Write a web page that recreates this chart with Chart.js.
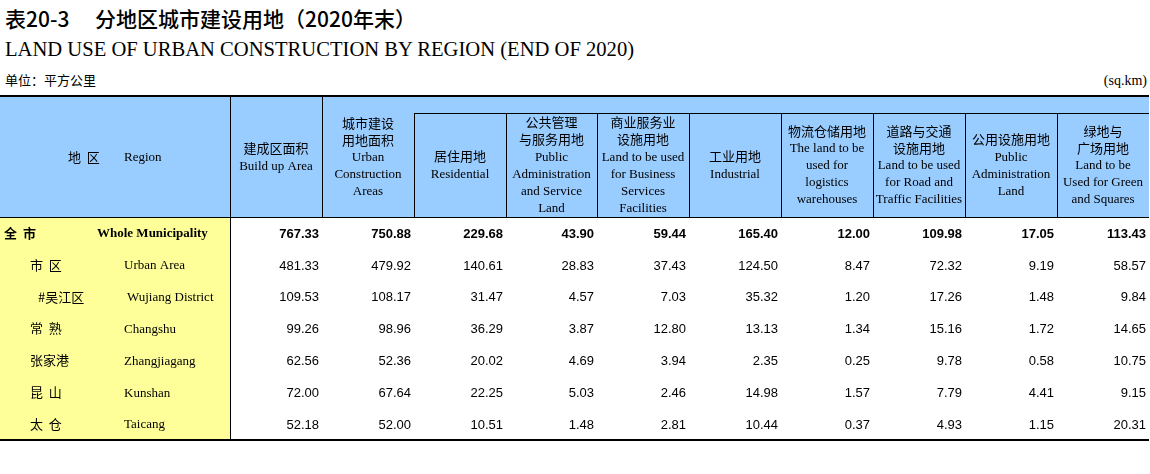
<!DOCTYPE html>
<html>
<head>
<meta charset="utf-8">
<script src="https://cdn.jsdelivr.net/npm/chart.js@4.4.1/dist/chart.umd.min.js"></script>
<style>
  html, body { margin: 0; padding: 0; background: #fff; }
  body { width: 1150px; height: 474px; position: relative; overflow: hidden; }
  .txt { position: absolute; white-space: nowrap; color: #000; }
  #title-no { left: 5px; top: 5px; font: 500 21px/26px "Noto Sans CJK SC", sans-serif; }
  #title-zh { left: 95px; top: 5px; font: 500 21px/26px "Noto Sans CJK SC", sans-serif; }
  #title-en { left: 5px; top: 37px; font: 20.6px/24px "Liberation Serif", serif; }
  #unit-zh { left: 5px; top: 72px; font: 13px/16px "Noto Sans CJK SC", sans-serif; }
  #unit-en { right: 3px; top: 73px; font: 14px/16px "Liberation Serif", serif; }
  #table-wrap { position: absolute; left: 0; top: 0; width: 1150px; height: 474px; }
</style>
</head>
<body>
<div class="txt" id="title-no">表20-3</div>
<div class="txt" id="title-zh">分地区城市建设用地（2020年末）</div>
<div class="txt" id="title-en">LAND USE OF URBAN CONSTRUCTION BY REGION (END OF 2020)</div>
<div class="txt" id="unit-zh">单位：平方公里</div>
<div class="txt" id="unit-en">(sq.km)</div>
<div id="table-wrap"><canvas id="land-table" width="1150" height="474"></canvas></div>

<script>
/* 分地区城市建设用地 (2020年末) — 表格用 Chart.js 线性坐标轴排版，插件绘制单元格 */

// 行：地区
var REGIONS_ZH = ['全  市', '市  区', '#吴江区', '常  熟', '张家港', '昆  山', '太  仓'];
var REGIONS_EN = ['Whole Municipality', 'Urban Area', 'Wujiang District', 'Changshu', 'Zhangjiagang', 'Kunshan', 'Taicang'];
var REGION_LEVEL = [0, 1, 2, 1, 1, 1, 1];

// 表头
var REGION_HEADER = ['地  区', 'Region'];
var COLUMN_HEADERS = [
  ['建成区面积', 'Build up Area'],
  ['城市建设', '用地面积', 'Urban', 'Construction', 'Areas'],
  ['居住用地', 'Residential'],
  ['公共管理', '与服务用地', 'Public', 'Administration', 'and Service', 'Land'],
  ['商业服务业', '设施用地', 'Land to be used', 'for Business', 'Services', 'Facilities'],
  ['工业用地', 'Industrial'],
  ['物流仓储用地', 'The land to be', 'used for', 'logistics', 'warehouses'],
  ['道路与交通', '设施用地', 'Land to be used', 'for Road and', 'Traffic Facilities'],
  ['公用设施用地', 'Public', 'Administration', 'Land'],
  ['绿地与', '广场用地', 'Land to be', 'Used for Green', 'and Squares']
];

// 各列数值 (平方公里)
var builtUpArea     = [767.33, 481.33, 109.53, 99.26, 62.56, 72.00, 52.18];
var urbanConstr     = [750.88, 479.92, 108.17, 98.96, 52.36, 67.64, 52.00];
var residential     = [229.68, 140.61, 31.47, 36.29, 20.02, 22.25, 10.51];
var publicAdminServ = [43.90, 28.83, 4.57, 3.87, 4.69, 5.03, 1.48];
var businessServ    = [59.44, 37.43, 7.03, 12.80, 3.94, 2.46, 2.81];
var industrial      = [165.40, 124.50, 35.32, 13.13, 2.35, 14.98, 10.44];
var logistics       = [12.00, 8.47, 1.20, 1.34, 0.25, 1.57, 0.37];
var roadTraffic     = [109.98, 72.32, 17.26, 15.16, 9.78, 7.79, 4.93];
var utilities       = [17.05, 9.19, 1.48, 1.72, 0.58, 4.41, 1.15];
var greenSquares    = [113.43, 58.57, 9.84, 14.65, 10.75, 9.15, 20.31];

var SERIES = [builtUpArea, urbanConstr, residential, publicAdminServ, businessServ,
              industrial, logistics, roadTraffic, utilities, greenSquares];

/* ---- 版式 (与数据分开) ---- */
var REGION_UNITS = 5;          // 地区列宽 (单位格)
var COL_UNITS = 2;             // 数值列宽
var HEADER_UNITS = 3.77;       // 表头高度 (以数据行为单位)
var SUBHEAD_UNITS = 0.5;       // 第3列起上方空白格
var HEADER_BLUE = '#99ccff';
var REGION_YELLOW = '#ffff99';
var LINE_H = 17;
var ZH_X = [4, 30, 38];
var EN_X = [97, 124, 127];

var FONT_ZH = '"Noto Sans CJK SC", sans-serif';
var FONT_SERIF = '"Liberation Serif", serif';
var FONT_NUM = '"Liberation Sans", Arial, sans-serif';

function isCJK(s) { return /[\u3400-\u9fff]/.test(s); }

// 以视觉中线定位文字
function drawText(ctx, text, x, yc, opts) {
  var size = opts.size || 13;
  var weight = opts.bold ? 'bold ' : '';
  var family, shift;
  if (opts.kind === 'zh') { family = FONT_ZH; shift = 0.38; }
  else if (opts.kind === 'num') { family = FONT_NUM; shift = 0.36; }
  else { family = FONT_SERIF; shift = 0.33; }
  ctx.font = weight + size + 'px ' + family;
  ctx.textAlign = opts.align || 'left';
  ctx.textBaseline = 'alphabetic';
  ctx.fillStyle = '#000';
  ctx.fillText(text, x, yc + size * shift);
}

var tablePlugin = {
  id: 'landTable',
  afterDraw: function (chart) {
    var ctx = chart.ctx;
    var xs = chart.scales.x, ys = chart.scales.y;
    var nRows = REGIONS_ZH.length;

    // 列边界
    var edges = [0, REGION_UNITS];
    SERIES.forEach(function () { edges.push(edges[edges.length - 1] + COL_UNITS); });
    var ex = edges.map(function (u) { return Math.round(xs.getPixelForValue(u)); });

    var yTop = Math.round(ys.getPixelForValue(0));
    var ySub = Math.round(ys.getPixelForValue(SUBHEAD_UNITS));
    var yHead = Math.round(ys.getPixelForValue(HEADER_UNITS));
    var yBot = Math.round(ys.getPixelForValue(HEADER_UNITS + nRows));
    var left = ex[0], right = ex[ex.length - 1];

    ctx.save();
    // 背景
    ctx.fillStyle = HEADER_BLUE;
    ctx.fillRect(left, yTop, right - left, yHead - yTop);
    ctx.fillStyle = REGION_YELLOW;
    ctx.fillRect(left, yHead, ex[1] - left, yBot - yHead);

    // 线条
    ctx.fillStyle = '#000';
    ctx.fillRect(left, yTop - 2, right - left, 2);
    ctx.fillRect(left, yBot - 1, right - left, 2);
    ctx.fillRect(left, yHead, right - left, 1);
    ctx.fillRect(ex[3], ySub, right - ex[3], 1);
    for (var k = 1; k < ex.length - 1; k++) {
      var y0 = k <= 2 ? yTop : ySub;
      ctx.fillRect(ex[k], y0, 1, yHead - y0);
    }
    ctx.fillRect(ex[1], yHead, 1, yBot - yHead);

    // 表头文字
    var regionMid = (yTop + yHead) / 2;
    drawText(ctx, REGION_HEADER[0], 68, regionMid, { kind: 'zh' });
    drawText(ctx, REGION_HEADER[1], EN_X[1], regionMid, { kind: 'en' });

    COLUMN_HEADERS.forEach(function (lines, c) {
      var cx = (ex[c + 1] + ex[c + 2]) / 2;
      var top = c < 2 ? yTop : ySub;
      var mid = (top + yHead) / 2;
      var start = mid - (lines.length - 1) * LINE_H / 2;
      lines.forEach(function (ln, i) {
        drawText(ctx, ln, cx, start + i * LINE_H, { kind: isCJK(ln) ? 'zh' : 'en', align: 'center' });
      });
    });

    // 数据行
    for (var r = 0; r < nRows; r++) {
      var yc = ys.getPixelForValue(HEADER_UNITS + r + 0.5);
      var lv = REGION_LEVEL[r];
      var bold = lv === 0;
      drawText(ctx, REGIONS_ZH[r], ZH_X[lv], yc, { kind: 'zh', bold: bold });
      drawText(ctx, REGIONS_EN[r], EN_X[lv], yc, { kind: 'en', bold: bold });
      SERIES.forEach(function (vals, c) {
        drawText(ctx, vals[r].toFixed(2), ex[c + 2] - 3, yc, { kind: 'num', bold: bold, align: 'right' });
      });
    }
    ctx.restore();
  }
};

var totalUnits = REGION_UNITS + COL_UNITS * SERIES.length;

new Chart(document.getElementById('land-table'), {
  type: 'scatter',
  data: { datasets: [] },
  options: {
    responsive: false,
    animation: false,
    devicePixelRatio: 1,
    layout: { padding: { left: 0, right: 1, top: 97, bottom: 34 } },
    plugins: { legend: { display: false }, tooltip: { enabled: false }, title: { display: false } },
    scales: {
      x: { type: 'linear', min: 0, max: totalUnits, display: false },
      y: { type: 'linear', min: 0, max: HEADER_UNITS + REGIONS_ZH.length, reverse: true, display: false }
    }
  },
  plugins: [tablePlugin]
});
</script>
</body>
</html>
